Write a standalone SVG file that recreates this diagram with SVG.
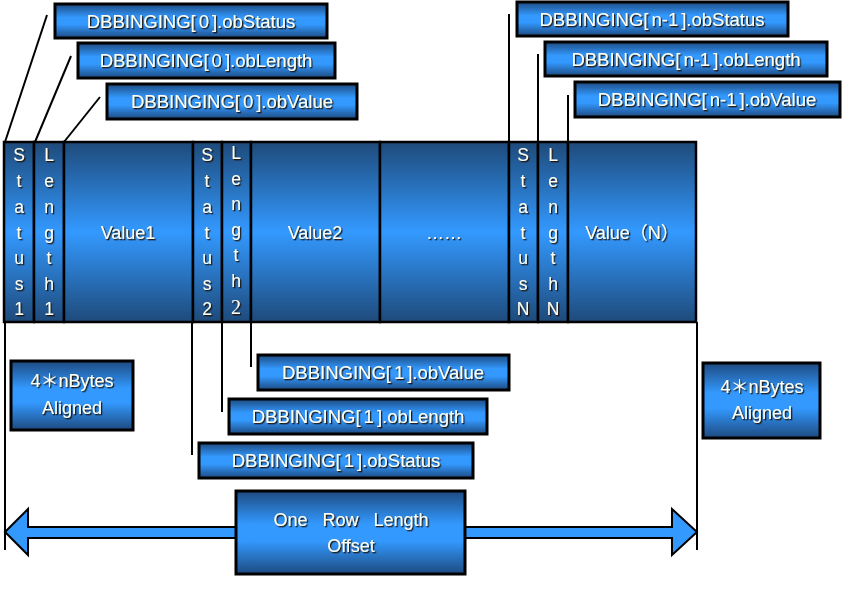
<svg xmlns="http://www.w3.org/2000/svg" width="842" height="605" viewBox="0 0 842 605">
<defs>
<linearGradient id="gBar" x1="0" y1="0" x2="0" y2="1">
<stop offset="0" stop-color="#1E4A7A"/>
<stop offset="0.5" stop-color="#3399FF"/>
<stop offset="1" stop-color="#1E4A7A"/>
</linearGradient>
<linearGradient id="gBox" x1="0" y1="0" x2="0" y2="1">
<stop offset="0" stop-color="#1D4A80"/>
<stop offset="0.4" stop-color="#3399FF"/>
<stop offset="0.6" stop-color="#3399FF"/>
<stop offset="1" stop-color="#1D4A80"/>
</linearGradient>
<filter id="sh" x="-10%" y="-30%" width="120%" height="160%">
<feDropShadow dx="1.3" dy="1.3" stdDeviation="0.3" flood-color="#1a1000" flood-opacity="0.95"/>
</filter>
</defs>
<style>
.col{fill:url(#gBar);stroke:#000;stroke-width:2.5}
.box{fill:url(#gBox);stroke:#000;stroke-width:3}
.t{font-family:"Liberation Sans","Noto Sans CJK SC",Arial,sans-serif;font-size:18.5px;fill:#FFFFF4;text-anchor:middle;dominant-baseline:central;filter:url(#sh)}
.c{font-family:"Liberation Sans","Noto Sans CJK SC",Arial,sans-serif;font-size:18px;fill:#FFFFF4;text-anchor:middle;dominant-baseline:central;filter:url(#sh)}
.v{font-family:"Liberation Sans","Noto Sans CJK SC",Arial,sans-serif;font-size:17.5px;fill:#FFFFF4;text-anchor:middle;filter:url(#sh)}
.ln{stroke:#000;stroke-width:2;fill:none}
.arrow{fill:#3399FF;stroke:#000;stroke-width:2}
</style>

<g id="connectors">
<line class="ln" x1="47" y1="15" x2="5" y2="142"/>
<line class="ln" x1="71" y1="56" x2="35" y2="142"/>
<line class="ln" x1="100" y1="97" x2="64" y2="142"/>
<line class="ln" x1="509" y1="14" x2="509" y2="142"/>
<line class="ln" x1="538" y1="54" x2="538" y2="142"/>
<line class="ln" x1="568" y1="95" x2="568" y2="142"/>
<line class="ln" x1="192" y1="322" x2="192" y2="455"/>
<line class="ln" x1="222" y1="322" x2="222" y2="412"/>
<line class="ln" x1="251" y1="322" x2="251" y2="367"/>
<line class="ln" x1="5" y1="322" x2="5" y2="550" stroke-width="2.5"/>
<line class="ln" x1="697" y1="322" x2="697" y2="550" stroke-width="2.5"/>
</g>

<g id="status1"><rect class="col" x="4" y="142" width="30" height="180"/>
<text class="v" x="19"><tspan x="19" y="161">S</tspan><tspan x="19" y="187">t</tspan><tspan x="19" y="213">a</tspan><tspan x="19" y="239">t</tspan><tspan x="19" y="264">u</tspan><tspan x="19" y="290">s</tspan><tspan x="19" y="315">1</tspan></text></g>
<g id="length1"><rect class="col" x="34" y="142" width="30" height="180"/>
<text class="v" x="49"><tspan x="49" y="161">L</tspan><tspan x="49" y="187">e</tspan><tspan x="49" y="213">n</tspan><tspan x="49" y="239">g</tspan><tspan x="49" y="264">t</tspan><tspan x="49" y="290">h</tspan><tspan x="49" y="315">1</tspan></text></g>
<g id="value1"><rect class="col" x="64" y="142" width="129" height="180"/><text class="c" x="128" y="233">Value1</text></g>
<g id="status2"><rect class="col" x="193" y="142" width="29" height="180"/>
<text class="v" x="207"><tspan x="207" y="161">S</tspan><tspan x="207" y="187">t</tspan><tspan x="207" y="213">a</tspan><tspan x="207" y="239">t</tspan><tspan x="207" y="264">u</tspan><tspan x="207" y="290">s</tspan><tspan x="207" y="315">2</tspan></text></g>
<g id="length2"><rect class="col" x="222" y="142" width="29" height="180"/>
<text class="v" x="236"><tspan x="236" y="159">L</tspan><tspan x="236" y="185">e</tspan><tspan x="236" y="210">n</tspan><tspan x="236" y="236">g</tspan><tspan x="236" y="261">t</tspan><tspan x="236" y="287">h</tspan><tspan x="236" y="314" font-size="20" font-family="Liberation Serif, serif">2</tspan></text></g>
<g id="value2"><rect class="col" x="251" y="142" width="129" height="180"/><text class="c" x="315" y="233">Value2</text></g>
<g id="dots"><rect class="col" x="380" y="142" width="129" height="180"/><text class="c" x="444" y="233">……</text></g>
<g id="statusN"><rect class="col" x="509" y="142" width="29" height="180"/>
<text class="v" x="523"><tspan x="523" y="161">S</tspan><tspan x="523" y="187">t</tspan><tspan x="523" y="213">a</tspan><tspan x="523" y="239">t</tspan><tspan x="523" y="264">u</tspan><tspan x="523" y="290">s</tspan><tspan x="523" y="315">N</tspan></text></g>
<g id="lengthN"><rect class="col" x="538" y="142" width="30" height="180"/>
<text class="v" x="553"><tspan x="553" y="161">L</tspan><tspan x="553" y="187">e</tspan><tspan x="553" y="213">n</tspan><tspan x="553" y="239">g</tspan><tspan x="553" y="264">t</tspan><tspan x="553" y="290">h</tspan><tspan x="553" y="315">N</tspan></text></g>
<g id="valueN"><rect class="col" x="568" y="142" width="128" height="180"/><text class="c" x="632" y="233">Value（N）</text></g>

<g id="lbl0status"><rect class="box" x="55" y="4" width="272" height="34"/><text class="t" x="191" y="21">DBBINGING[<tspan dx="3">0</tspan><tspan dx="3">]</tspan>.obStatus</text></g>
<g id="lbl0length"><rect class="box" x="78" y="43" width="257" height="35"/><text class="t" x="206" y="60">DBBINGING[<tspan dx="3">0</tspan><tspan dx="3">]</tspan>.obLength</text></g>
<g id="lbl0value"><rect class="box" x="107" y="84" width="250" height="35"/><text class="t" x="232" y="101">DBBINGING[<tspan dx="3">0</tspan><tspan dx="3">]</tspan>.obValue</text></g>

<g id="lblNstatus"><rect class="box" x="517" y="2" width="271" height="34"/><text class="t" x="652" y="19">DBBINGING[<tspan dx="3">n-1</tspan><tspan dx="3">]</tspan>.obStatus</text></g>
<g id="lblNlength"><rect class="box" x="545" y="42" width="282" height="34"/><text class="t" x="686" y="59">DBBINGING[<tspan dx="3">n-1</tspan><tspan dx="3">]</tspan>.obLength</text></g>
<g id="lblNvalue"><rect class="box" x="575" y="82" width="265" height="35"/><text class="t" x="707" y="99">DBBINGING[<tspan dx="3">n-1</tspan><tspan dx="3">]</tspan>.obValue</text></g>

<g id="lbl1value"><rect class="box" x="258" y="355" width="251" height="35"/><text class="t" x="383" y="372">DBBINGING[<tspan dx="3">1</tspan><tspan dx="3">]</tspan>.obValue</text></g>
<g id="lbl1length"><rect class="box" x="229" y="399" width="258" height="35"/><text class="t" x="358" y="416">DBBINGING[<tspan dx="3">1</tspan><tspan dx="3">]</tspan>.obLength</text></g>
<g id="lbl1status"><rect class="box" x="199" y="443" width="274" height="35"/><text class="t" x="336" y="460">DBBINGING[<tspan dx="3">1</tspan><tspan dx="3">]</tspan>.obStatus</text></g>

<g id="alignLeft"><rect class="box" x="11" y="361" width="122" height="69"/>
<text class="c" x="72" y="381">4＊nBytes</text><text class="c" x="72" y="408">Aligned</text></g>
<g id="alignRight"><rect class="box" x="703" y="363" width="117" height="75"/>
<text class="c" x="762" y="387">4＊nBytes</text><text class="c" x="762" y="413">Aligned</text></g>

<g id="rowArrow">
<polygon class="arrow" points="5,532 28,509 28,527 672,527 672,509 697,532 672,555 672,538 28,538 28,555"/>
<rect class="box" x="236" y="491" width="229" height="83"/>
<text class="c" x="351" y="520" word-spacing="10">One Row Length</text>
<text class="c" x="351" y="546">Offset</text>
</g>
</svg>
